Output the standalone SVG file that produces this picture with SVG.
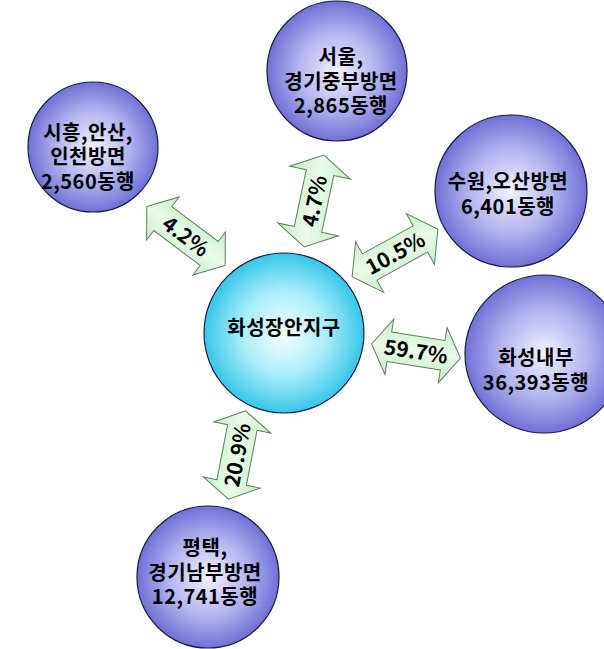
<svg xmlns="http://www.w3.org/2000/svg" width="604" height="649" viewBox="0 0 604 649">
<style>
.node{stroke:#1c1c3c;stroke-width:1.2}
.pur{fill:url(#gp)}
.cyan{fill:url(#gc)}
.t{font-family:"Noto Sans CJK KR","Noto Sans",sans-serif;font-weight:bold;font-size:20px;fill:#000;text-anchor:middle;letter-spacing:0.5px}
.arr{fill:url(#gg);stroke:#5f7f5f;stroke-width:1}
.p{font-family:"Noto Sans CJK KR","Noto Sans",sans-serif;font-weight:bold;font-size:21px;fill:#000;text-anchor:middle}
</style>
<defs>
<radialGradient id="gp" cx="50%" cy="50%" r="50%">
<stop offset="0" stop-color="#f2f2ff"/>
<stop offset="0.55" stop-color="#b4b4f0"/>
<stop offset="1" stop-color="#7070d6"/>
</radialGradient>
<radialGradient id="gc" cx="50%" cy="50%" r="50%">
<stop offset="0" stop-color="#f8ffff"/>
<stop offset="0.55" stop-color="#a4ecf8"/>
<stop offset="1" stop-color="#36c6ea"/>
</radialGradient>
<linearGradient id="gg" x1="0" y1="0" x2="0" y2="1">
<stop offset="0" stop-color="#c6eec6"/>
<stop offset="0.5" stop-color="#eafcea"/>
<stop offset="1" stop-color="#c6eec6"/>
</linearGradient>
</defs>
<rect width="604" height="649" fill="#fff"/>
<g id="n-siheung">
<circle class="node pur" cx="93" cy="147" r="65"/>
<text class="t"><tspan x="88" y="140">시흥,안산,</tspan><tspan x="88" y="164">인천방면</tspan><tspan x="88" y="189">2,560동행</tspan></text>
</g>
<g id="n-seoul">
<circle class="node pur" cx="337" cy="71" r="70"/>
<text class="t"><tspan x="341" y="64">서울,</tspan><tspan x="341" y="89">경기중부방면</tspan><tspan x="341" y="113">2,865동행</tspan></text>
</g>
<g id="n-suwon">
<circle class="node pur" cx="511" cy="191" r="76"/>
<text class="t"><tspan x="508" y="189">수원,오산방면</tspan><tspan x="508" y="214">6,401동행</tspan></text>
</g>
<g id="n-internal">
<circle class="node pur" cx="544" cy="354" r="79"/>
<text class="t"><tspan x="536" y="365">화성내부</tspan><tspan x="536" y="390">36,393동행</tspan></text>
</g>
<g id="n-pyeongtaek">
<circle class="node pur" cx="208" cy="577" r="71"/>
<text class="t"><tspan x="205" y="555">평택,</tspan><tspan x="205" y="580">경기남부방면</tspan><tspan x="205" y="604">12,741동행</tspan></text>
</g>
<g id="n-center">
<circle class="node cyan" cx="284" cy="333" r="80"/>
<text class="t" x="284" y="335">화성장안지구</text>
</g>
<g id="connectors">
<g transform="translate(186,236) rotate(37)">
<path class="arr" d="M -49 0 L -29 -27 L -29 -15 L 29 -15 L 29 -27 L 49 0 L 29 27 L 29 15 L -29 15 L -29 27 Z"/>
<text class="p" x="0" y="8">4.2%</text>
</g>
<g transform="translate(314,201) rotate(-78)">
<path class="arr" d="M -47 0 L -29 -31 L -29 -14 L 29 -14 L 29 -31 L 47 0 L 29 31 L 29 14 L -29 14 L -29 31 Z"/>
<text class="p" x="0" y="8">4.7%</text>
</g>
<g transform="translate(395,253) rotate(-29)">
<path class="arr" d="M -49 0 L -29 -29 L -29 -15 L 29 -15 L 29 -29 L 49 0 L 29 29 L 29 15 L -29 15 L -29 29 Z"/>
<text class="p" x="0" y="8">10.5%</text>
</g>
<g transform="translate(416,351) rotate(9)">
<path class="arr" d="M -45 0 L -27 -28 L -27 -15 L 27 -15 L 27 -28 L 45 0 L 27 28 L 27 15 L -27 15 L -27 28 Z"/>
<text class="p" x="0" y="8">59.7%</text>
</g>
<g transform="translate(237,455) rotate(-79)">
<path class="arr" d="M -45 0 L -28 -29 L -28 -15 L 28 -15 L 28 -29 L 45 0 L 28 29 L 28 15 L -28 15 L -28 29 Z"/>
<text class="p" x="0" y="8">20.9%</text>
</g>
</g>
</svg>
